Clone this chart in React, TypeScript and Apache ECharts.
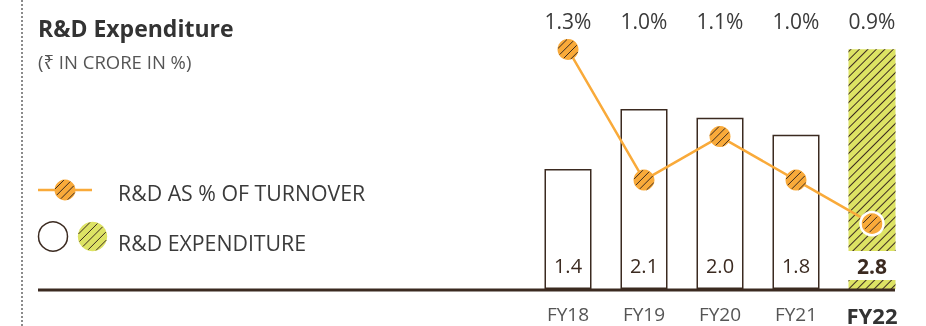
import { useEffect, useRef } from 'react';
import * as echarts from 'echarts';

const categories = ['FY18', 'FY19', 'FY20', 'FY21', 'FY22'];
const expenditure = [1.4, 2.1, 2.0, 1.8, 2.8];
const pctOfTurnover = [1.3, 1.0, 1.1, 1.0, 0.9];
const pctLabels = pctOfTurnover.map((v) => v.toFixed(1) + '%');
const legendLabels = ['R&D AS % OF TURNOVER', 'R&D EXPENDITURE'];
const titleText = 'R&D Expenditure';
const subtitleText = '(₹ IN CRORE IN %)';

const DARK = '#3b2a20';
const ORANGE = '#f9aa3a';
const LIME = '#dde364';
const TEXT = '#3a3a3a';
const FONT = '"Open Sans", "Noto Sans", sans-serif';

const stripeDecal = {
  symbol: 'rect',
  symbolSize: 1,
  dashArrayX: [1, 0],
  dashArrayY: [1, 5],
  rotation: -Math.PI / 4,
  color: DARK,
};

function stripes(cx: number, cy: number, r: number, gap: number, color: string, z = 20) {
  const out: any[] = [];
  const s = Math.SQRT1_2;
  for (let d = -r + gap / 2; d < r; d += gap) {
    const h = Math.sqrt(Math.max(r * r - d * d, 0)) - 0.8;
    if (h <= 0) continue;
    const px = cx + d * s;
    const py = cy + d * s;
    out.push({
      type: 'line',
      shape: { x1: px - h * s, y1: py + h * s, x2: px + h * s, y2: py - h * s },
      style: { stroke: color, lineWidth: 1 },
      z,
    });
  }
  return out;
}

export default function App() {
  const ref = useRef<HTMLDivElement>(null);
  useEffect(() => {
    if (!ref.current) return;
    const chart = echarts.init(ref.current, null, { renderer: 'svg' });
    const last = expenditure.length - 1;
    const labelBase = {
      show: true,
      position: 'insideBottom',
      distance: 9,
      width: 50,
      height: 29,
      lineHeight: 29,
      align: 'center',
      fontFamily: FONT,
      fontSize: 20,
      color: DARK,
      borderWidth: 0,
      textBorderWidth: 0,
      formatter: (p: any) => Number(p.value).toFixed(1),
    };
    chart.setOption({
      animation: false,
      grid: { left: 530, right: 16, top: 32, bottom: 36 },
      xAxis: [
        {
          type: 'category',
          data: categories,
          position: 'bottom',
          axisLine: { show: false },
          axisTick: { show: false },
          axisLabel: {
            margin: 15,
            formatter: (v: string, i: number) => (i === last ? `{b|${v}}` : `{n|${v}}`),
            rich: {
              n: { fontFamily: FONT, fontSize: 19, color: '#555' },
              b: { fontFamily: FONT, fontSize: 22, fontWeight: 'bold', color: '#333' },
            },
          },
        },
        {
          type: 'category',
          data: pctLabels,
          position: 'top',
          axisLine: { show: false },
          axisTick: { show: false },
          axisLabel: { margin: 1, fontFamily: FONT, fontSize: 21, color: TEXT },
        },
      ],
      yAxis: [
        { type: 'value', min: 0, max: 3, show: false },
        { type: 'value', min: 0.75, max: 1.34, show: false },
      ],
      series: [
        {
          type: 'bar',
          barWidth: 47,
          itemStyle: { color: '#fff', borderColor: DARK, borderWidth: 1.5 },
          label: labelBase,
          data: expenditure.map((v, i) =>
            i === last
              ? {
                  value: v,
                  itemStyle: { color: LIME, borderWidth: 0, borderColor: 'transparent', decal: stripeDecal },
                  label: {
                    ...labelBase,
                    fontWeight: 'bold',
                    fontSize: 21,
                    backgroundColor: '#fff',
                    borderColor: 'transparent',
                    borderWidth: 0,
                    shadowBlur: 0,
                  },
                }
              : v
          ),
          z: 2,
        },
        {
          type: 'line',
          yAxisIndex: 1,
          showSymbol: false,
          symbol: 'none',
          lineStyle: { color: ORANGE, width: 2.5 },
          data: pctOfTurnover,
          z: 5,
        },
        {
          type: 'custom',
          yAxisIndex: 1,
          z: 6,
          data: pctOfTurnover.map((v, i) => [i, v]),
          renderItem: (params: any, api: any) => {
            const pt = api.coord([api.value(0), api.value(1)]);
            const isLast = params.dataIndex === last;
            const r = 10.5;
            return {
              type: 'group',
              children: [
                {
                  type: 'circle',
                  shape: { cx: pt[0], cy: pt[1], r: isLast ? r + 1 : r },
                  style: isLast
                    ? { fill: ORANGE, stroke: '#fff', lineWidth: 2.5 }
                    : { fill: ORANGE },
                },
                ...stripes(pt[0], pt[1], isLast ? r - 1 : r, 5.5, DARK, 1).map((l) => ({ ...l, z2: 2 })),
              ],
            };
          },
        },
      ],
      graphic: [
        {
          type: 'line',
          shape: { x1: 22, y1: 0, x2: 22, y2: 326 },
          style: { stroke: '#666', lineWidth: 1.5, lineDash: [2, 2] },
        },
        {
          type: 'text',
          x: 38,
          y: 28,
          style: { text: titleText, font: `bold 23px ${FONT}`, fill: '#333', textVerticalAlign: 'middle' },
        },
        {
          type: 'text',
          x: 38,
          y: 61,
          style: { text: subtitleText, font: `18.5px ${FONT}`, fill: '#555', textVerticalAlign: 'middle' },
        },
        {
          type: 'line',
          shape: { x1: 38, y1: 190, x2: 92, y2: 190 },
          style: { stroke: ORANGE, lineWidth: 2.5 },
          z: 10,
        },
        { type: 'circle', shape: { cx: 65, cy: 190, r: 10.5 }, style: { fill: ORANGE }, z: 15 },
        ...stripes(65, 190, 10.5, 5.5, DARK),
        {
          type: 'text',
          x: 118,
          y: 192,
          style: { text: legendLabels[0], font: `21.3px ${FONT}`, fill: TEXT, textVerticalAlign: 'middle' },
        },
        {
          type: 'circle',
          shape: { cx: 53, cy: 236.5, r: 14.5 },
          style: { fill: '#fff', stroke: DARK, lineWidth: 1.5 },
        },
        { type: 'circle', shape: { cx: 92.5, cy: 236.5, r: 14.7 }, style: { fill: LIME }, z: 15 },
        ...stripes(92.5, 236.5, 14.7, 6, DARK),
        {
          type: 'text',
          x: 118,
          y: 242,
          style: { text: legendLabels[1], font: `21.3px ${FONT}`, fill: TEXT, textVerticalAlign: 'middle' },
        },
        {
          type: 'line',
          shape: { x1: 38, y1: 290, x2: 895, y2: 290 },
          style: { stroke: DARK, lineWidth: 3 },
          z: 30,
        },
      ],
    });
    return () => chart.dispose();
  }, []);
  return <div ref={ref} style={{ position: 'fixed', left: 0, top: 0, width: 926, height: 326 }} />;
}
